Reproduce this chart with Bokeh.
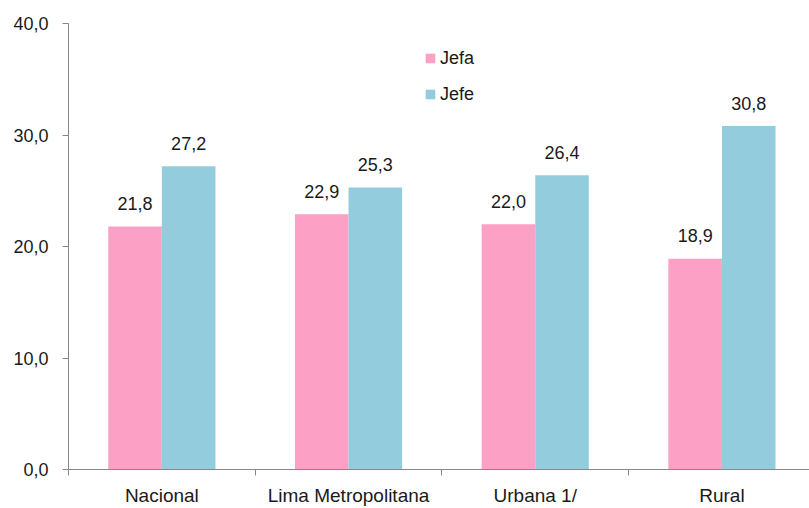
from bokeh.plotting import figure
from bokeh.models import ColumnDataSource, FixedTicker, Legend, LegendItem, Range1d
from bokeh.core.properties import value
from bokeh.embed import file_html
from bokeh.resources import INLINE

categories = ["Nacional", "Lima Metropolitana", "Urbana 1/", "Rural"]
jefa = [21.8, 22.9, 22.0, 18.9]
jefe = [27.2, 25.3, 26.4, 30.8]
series_names = ["Jefa", "Jefe"]
y_ticks = [0, 10, 20, 30, 40]
y_tick_labels = ["0,0", "10,0", "20,0", "30,0", "40,0"]

FONT = "Liberation Sans"
PINK = "#FCA0C5"
BLUE = "#93CDDD"
AXIS = "#878787"
TEXT = "#1a1a1a"

centers = [i + 0.5 for i in range(len(categories))]
bw = 0.287

def fmt(v):
    return f"{v:.1f}".replace(".", ",")

src_a = ColumnDataSource(dict(x=[c - bw / 2 for c in centers], top=jefa,
                              lab=[fmt(v) for v in jefa]))
src_b = ColumnDataSource(dict(x=[c + bw / 2 for c in centers], top=jefe,
                              lab=[fmt(v) for v in jefe]))

p = figure(width=809, height=508, output_backend="svg", toolbar_location=None,
           x_range=Range1d(0, 3.969), y_range=Range1d(0, 40),
           min_border_left=68, min_border_right=0, min_border_top=23,
           min_border_bottom=39)
p.outline_line_color = None
p.xgrid.visible = False
p.ygrid.visible = False
p.background_fill_color = "white"
p.border_fill_color = "white"

ra = p.vbar(x="x", top="top", width=bw, source=src_a, fill_color=PINK, line_color=None)
rb = p.vbar(x="x", top="top", width=bw, source=src_b, fill_color=BLUE, line_color=None)

for src in (src_a, src_b):
    p.text(x="x", y="top", text="lab", source=src, text_align="center",
           text_baseline="alphabetic", y_offset=-23, text_font=value(FONT),
           text_font_size="18px", text_color=TEXT)

# y axis
ya = p.yaxis[0]
ya.ticker = FixedTicker(ticks=y_ticks)
ya.major_label_overrides = {t: l for t, l in zip(y_ticks, y_tick_labels)}
ya.major_tick_out = 6
ya.major_tick_in = 0
ya.minor_tick_line_color = None
ya.axis_line_color = AXIS
ya.major_tick_line_color = AXIS
ya.major_label_text_font = FONT
ya.major_label_text_font_size = "18px"
ya.major_label_text_color = TEXT
ya.major_label_standoff = 14

# x axis
xa = p.xaxis[0]
xa.ticker = FixedTicker(ticks=centers, minor_ticks=[0, 1, 2, 3, 4])
xa.major_label_overrides = {c: n for c, n in zip(centers, categories)}
xa.major_tick_line_color = None
xa.major_tick_out = 0
xa.major_tick_in = 0
xa.minor_tick_out = 6
xa.minor_tick_in = 0
xa.minor_tick_line_color = AXIS
xa.axis_line_color = AXIS
xa.major_label_text_font = FONT
xa.major_label_text_font_size = "19px"
xa.major_label_text_color = TEXT
xa.major_label_standoff = 9

legend = Legend(items=[LegendItem(label=series_names[0], renderers=[ra]),
                       LegendItem(label=series_names[1], renderers=[rb])],
                location=(356, 363), orientation="vertical")
legend.border_line_color = None
legend.background_fill_alpha = 0
legend.padding = 0
legend.margin = 0
legend.spacing = 12
legend.glyph_width = 12
legend.glyph_height = 12
legend.label_height = 24
legend.label_standoff = 4
legend.label_text_font = FONT
legend.label_text_font_size = "18px"
legend.label_text_color = TEXT
p.add_layout(legend, "center")

open("out.html", "w").write(file_html(p, INLINE))
